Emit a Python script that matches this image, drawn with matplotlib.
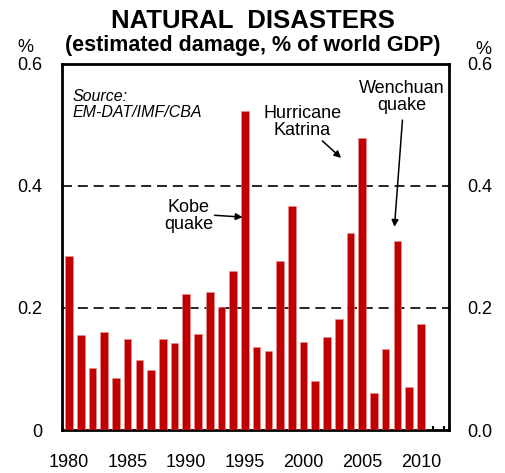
import matplotlib
matplotlib.use("Agg")
import matplotlib.pyplot as plt
from matplotlib.ticker import MultipleLocator

years = list(range(1980, 2011))
damage = [0.286, 0.155, 0.102, 0.161, 0.086, 0.149, 0.114, 0.098, 0.149, 0.142,
          0.223, 0.157, 0.226, 0.202, 0.261, 0.523, 0.136, 0.130, 0.277, 0.367,
          0.145, 0.080, 0.152, 0.182, 0.323, 0.479, 0.061, 0.133, 0.310, 0.070,
          0.173]
left_labels = ["0", "0.2", "0.4", "0.6"]
right_labels = ["0.0", "0.2", "0.4", "0.6"]
ytick_vals = [0, 0.2, 0.4, 0.6]
xtick_vals = [1980, 1985, 1990, 1995, 2000, 2005, 2010]

plt.rcParams['font.family'] = ['Liberation Sans', 'DejaVu Sans']

fig = plt.figure(figsize=(5.06, 4.73), dpi=100)
ax = fig.add_axes([62/506, 43/473, 387/506, 366/473])

ax.bar(years, damage, width=0.65, color='#C00000', edgecolor='#E89090', linewidth=0.4, zorder=3)

for yv in [0.2, 0.4]:
    ax.axhline(yv, color='black', lw=1.2, ls=(0, (6, 3.5)), zorder=2)

ax.set_xlim(1979.4, 2012.4)
ax.set_ylim(0, 0.6)

for s in ax.spines.values():
    s.set_linewidth(2)
    s.set_color('black')

TS = 13
ax.set_xticks(xtick_vals)
ax.xaxis.set_minor_locator(MultipleLocator(1))
ax.tick_params(axis='x', which='both', direction='in', length=3, width=1.5, pad=17, labelsize=TS)
ax.set_yticks(ytick_vals)
ax.set_yticklabels(left_labels)
ax.tick_params(axis='y', length=0, pad=14, labelsize=TS)

ax2 = ax.twinx()
ax2.set_ylim(0, 0.6)
ax2.set_yticks(ytick_vals)
ax2.set_yticklabels(right_labels)
ax2.tick_params(axis='y', length=0, pad=13, labelsize=TS)
for s in ax2.spines.values():
    s.set_visible(False)

fig.text(25/506, 1 - 48/473, '%', ha='center', va='center', fontsize=TS)
fig.text(483/506, 1 - 50/473, '%', ha='center', va='center', fontsize=TS)

fig.text(0.5, 1 - 21/473, 'NATURAL  DISASTERS', ha='center', va='center',
         fontsize=18.5, fontweight='bold')
fig.text(0.5, 1 - 46/473, '(estimated damage, % of world GDP)', ha='center', va='center',
         fontsize=15.5, fontweight='bold')

ax.text(1980.3, 0.546, 'Source:', style='italic', fontsize=11.5, va='center', ha='left')
ax.text(1980.3, 0.520, 'EM-DAT/IMF/CBA', style='italic', fontsize=11.5, va='center', ha='left')

ap = dict(arrowstyle='-|>', color='black', lw=1.1, mutation_scale=10, shrinkA=0, shrinkB=0)
ax.text(1990.2, 0.351, 'Kobe\nquake', ha='center', va='center', fontsize=TS, linespacing=1.0)
ax.annotate('', xy=(1994.8, 0.349), xytext=(1992.4, 0.352), arrowprops=ap)

ax.text(1999.9, 0.505, 'Hurricane\nKatrina', ha='center', va='center', fontsize=TS, linespacing=1.0)
ax.annotate('', xy=(2003.2, 0.446), xytext=(2001.6, 0.474), arrowprops=ap)

ax.text(2008.35, 0.546, 'Wenchuan\nquake', ha='center', va='center', fontsize=TS, linespacing=1.0)
ax.annotate('', xy=(2007.75, 0.333), xytext=(2008.43, 0.508), arrowprops=ap)

fig.savefig('out.png', dpi=100)
